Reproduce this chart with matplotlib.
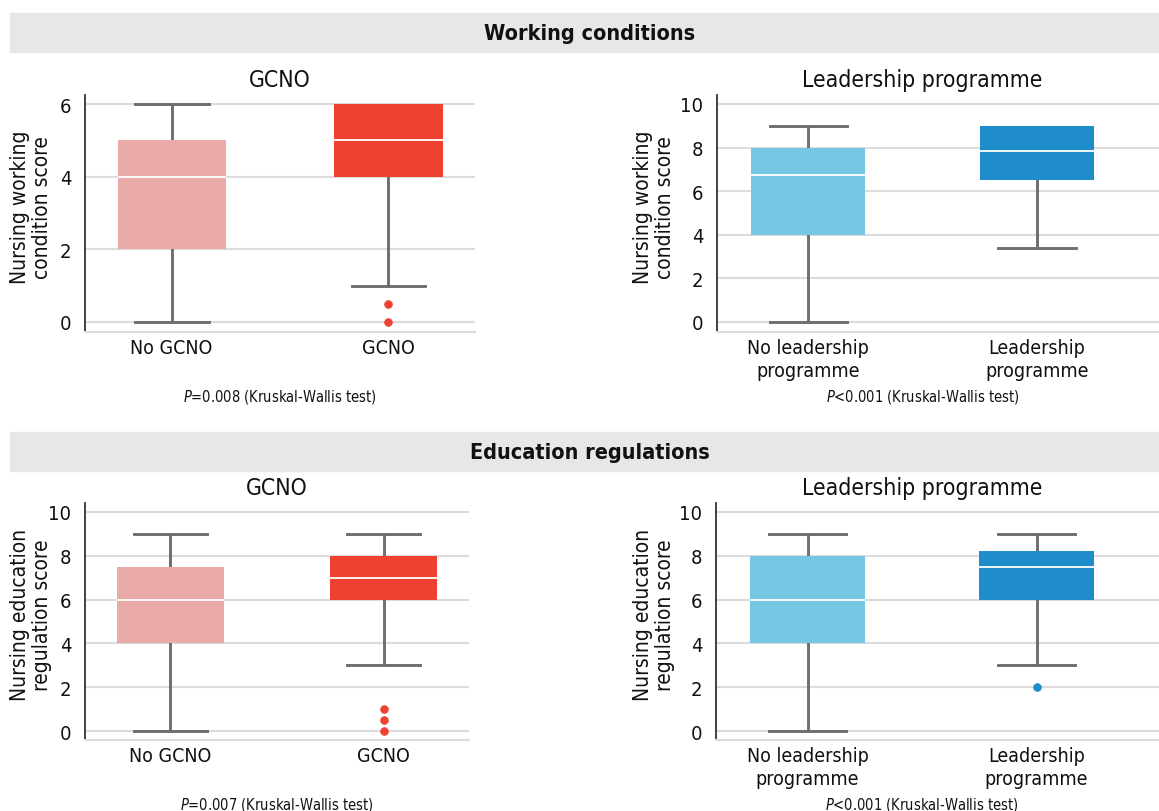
import matplotlib
matplotlib.use('Agg')
from matplotlib import pyplot as plt
from matplotlib.patches import Rectangle

plt.rcParams['font.family'] = ['DejaVu Sans']
plt.rcParams['font.stretch'] = 'condensed'
plt.rcParams['mathtext.fontset'] = 'custom'
plt.rcParams['mathtext.it'] = 'DejaVu Sans:italic'

# ---- data ----
gcno_labels = ['No GCNO', 'GCNO']
lead_labels = ['No leadership\nprogramme', 'Leadership\nprogramme']

# working conditions vs GCNO
wc_gcno_low = [0, 1]
wc_gcno_q1 = [2, 4]
wc_gcno_med = [4, 5]
wc_gcno_q3 = [5, 6]
wc_gcno_high = [6, 6]
wc_gcno_fliers = [[], [0.5, 0]]

# working conditions vs leadership programme
wc_lead_low = [0, 3.4]
wc_lead_q1 = [4, 6.5]
wc_lead_med = [6.75, 7.85]
wc_lead_q3 = [8, 9]
wc_lead_high = [9, 9]
wc_lead_fliers = [[], []]

# education regulations vs GCNO
ed_gcno_low = [0, 3]
ed_gcno_q1 = [4, 6]
ed_gcno_med = [6, 7]
ed_gcno_q3 = [7.5, 8]
ed_gcno_high = [9, 9]
ed_gcno_fliers = [[], [1, 0.5, 0]]

# education regulations vs leadership programme
ed_lead_low = [0, 3]
ed_lead_q1 = [4, 6]
ed_lead_med = [6, 7.5]
ed_lead_q3 = [8, 8.2]
ed_lead_high = [9, 9]
ed_lead_fliers = [[], [2]]

gcno_colors = ['#eaaaa7', '#ef412f']
lead_colors = ['#77c6e3', '#1f8dcb']

W, H = 1159, 812
fig = plt.figure(figsize=(W / 100, H / 100), dpi=100)


def fx(px):
    return px / W


def fy(py):
    return 1 - py / H


# grey header bars
for top, bot, txt in [(14, 53, 'Working conditions'), (433, 472, 'Education regulations')]:
    fig.patches.append(Rectangle((fx(10), fy(bot)), 1 - fx(10), (bot - top) / H,
                                 transform=fig.transFigure, color='#e6e7e8', zorder=0))
    fig.text(fx(590), fy((top + bot) / 2 + 1), txt, ha='center', va='center',
             fontsize=15.5, fontweight='bold', color='#111111')


def make_stats(labels, low, q1, med, q3, high, fliers):
    stats = []
    for i in range(len(labels)):
        stats.append(dict(label=labels[i], whislo=low[i], q1=q1[i], med=med[i],
                          q3=q3[i], whishi=high[i], fliers=fliers[i]))
    return stats


def panel(rect, stats, colors, title, ylabel, ylim, yticks, xright, ptext, ylab_x):
    left, top, right, bottom = rect
    ax = fig.add_axes([fx(left), fy(bottom), (right - left) / W, (bottom - top) / H])
    bp = ax.bxp(stats, positions=[0, 1], widths=0.5, patch_artist=True,
                capwidths=0.34,
                boxprops=dict(linewidth=0, zorder=3),
                whiskerprops=dict(color='#6d6e71', linewidth=2.1, zorder=2),
                capprops=dict(color='#6d6e71', linewidth=2.1, zorder=2),
                medianprops=dict(color='white', linewidth=1.3, zorder=4),
                flierprops=dict(marker='o', markersize=5.5, markeredgewidth=0.6,
                                zorder=4))
    for patch, c in zip(bp['boxes'], colors):
        patch.set_facecolor(c)
    for fl, c in zip(bp['fliers'], colors):
        fl.set_markerfacecolor(c)
        fl.set_markeredgecolor(c)
    # hide caps that sit on the box edge (no whisker there)
    for i, st in enumerate(stats):
        if st['whishi'] == st['q3']:
            bp['caps'][2 * i + 1].set_visible(False)
        if st['whislo'] == st['q1']:
            bp['caps'][2 * i].set_visible(False)
    ax.set_xlim(-0.4, xright)
    ax.set_ylim(*ylim)
    ax.set_yticks(yticks)
    ax.yaxis.grid(True, color='#dcdcdc', linewidth=1.5, zorder=0)
    ax.set_axisbelow(True)
    for s in ['top', 'right']:
        ax.spines[s].set_visible(False)
    ax.spines['bottom'].set_color('#dcdcdc')
    ax.spines['bottom'].set_linewidth(1.5)
    ax.spines['left'].set_color('#333333')
    ax.spines['left'].set_linewidth(1.3)
    ax.tick_params(axis='y', length=0, pad=10, labelsize=14.5, labelcolor='#111111')
    ax.tick_params(axis='x', length=0, pad=4, labelsize=14, labelcolor='#111111')
    for lbl in ax.get_xticklabels():
        lbl.set_linespacing(1.3)
    ax.set_ylabel(ylabel, fontsize=15, linespacing=1.1, color='#111111')
    ax.yaxis.set_label_coords(ylab_x, 0.53)
    ax.text(0.5, 1.038, title, transform=ax.get_xaxis_transform(), ha='center',
            va='baseline', fontsize=16.5, color='#111111')
    ax.text(0.5, -0.27, ptext, transform=ax.get_xaxis_transform(), ha='center',
            va='center', fontsize=10.5, color='#111111')
    return ax


p1 = '$\\it{P}$=0.008 (Kruskal-Wallis test)'
p2 = '$\\it{P}$<0.001 (Kruskal-Wallis test)'
p3 = '$\\it{P}$=0.007 (Kruskal-Wallis test)'

panel((85, 96, 475, 333),
      make_stats(gcno_labels, wc_gcno_low, wc_gcno_q1, wc_gcno_med, wc_gcno_q3, wc_gcno_high, wc_gcno_fliers),
      gcno_colors, 'GCNO', 'Nursing working\ncondition score', (-0.28, 6.25), [0, 2, 4, 6], 1.4, p1, -0.085)
panel((717, 96, 1159, 333),
      make_stats(lead_labels, wc_lead_low, wc_lead_q1, wc_lead_med, wc_lead_q3, wc_lead_high, wc_lead_fliers),
      lead_colors, 'Leadership programme', 'Nursing working\ncondition score', (-0.46, 10.41), [0, 2, 4, 6, 8, 10], 1.535, p2, -0.095)
panel((85, 504, 469, 741),
      make_stats(gcno_labels, ed_gcno_low, ed_gcno_q1, ed_gcno_med, ed_gcno_q3, ed_gcno_high, ed_gcno_fliers),
      gcno_colors, 'GCNO', 'Nursing education\nregulation score', (-0.41, 10.41), [0, 2, 4, 6, 8, 10], 1.4, p3, -0.086)
panel((716, 504, 1159, 741),
      make_stats(lead_labels, ed_lead_low, ed_lead_q1, ed_lead_med, ed_lead_q3, ed_lead_high, ed_lead_fliers),
      lead_colors, 'Leadership programme', 'Nursing education\nregulation score', (-0.41, 10.41), [0, 2, 4, 6, 8, 10], 1.535, p2, -0.093)

fig.savefig('out.png', dpi=100)
